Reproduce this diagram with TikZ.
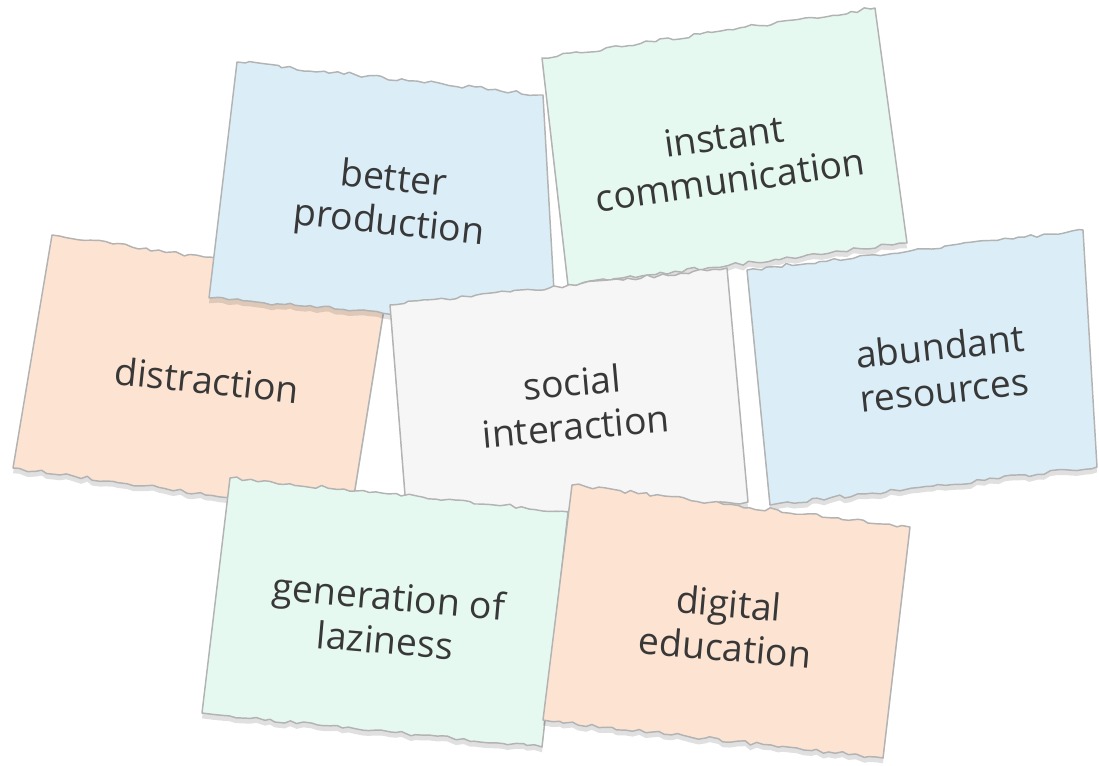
\documentclass[tikz,border=0pt]{standalone}
\usepackage{fontspec}
\setmainfont{Open Sans}
\usetikzlibrary{decorations.pathmorphing,shadows}
\definecolor{noteblue}{HTML}{DBEEF8}
\definecolor{noteorange}{HTML}{FDE4D2}
\definecolor{notegreen}{HTML}{E6F9F1}
\definecolor{notegray}{HTML}{F6F6F6}
\definecolor{noteedge}{HTML}{B3B3B3}
\definecolor{notetext}{HTML}{383838}
\tikzset{font=\fontsize{28}{33}\selectfont}
\tikzset{paper/.style={draw=noteedge, line width=1.1pt, line join=round,
    drop shadow={shadow xshift=0pt, shadow yshift=-4pt, fill=black, opacity=.12}}}
\tikzset{torn/.style={decoration={random steps, segment length=5pt, amplitude=1.4pt}}}
\tikzset{notelabel/.style={text=notetext, align=center}}
% corners: top left, top right, bottom right, bottom left, colour
\newcommand{\papernote}[5]{%
  \path[paper, fill=#5] #4 -- #1 decorate[torn]{-- #2} -- #3 decorate[torn]{-- #4} -- cycle;}

\begin{document}
\begin{tikzpicture}[x=0.75pt,y=-0.75pt]
\pgfmathsetseed{11}
\useasboundingbox (0,0) rectangle (1099,766);
\papernote{(52,235)}{(388,284)}{(351,514)}{(13,468)}{noteorange}
\papernote{(237,62)}{(543,95)}{(556,327)}{(209,298)}{noteblue}
\papernote{(542,58)}{(875,8)}{(907,243)}{(568,285)}{notegreen}
\papernote{(390,305)}{(727,268)}{(748,502)}{(407,520)}{notegray}
\papernote{(747,270)}{(1083,230)}{(1097,467)}{(770,505)}{noteblue}
\papernote{(230,478)}{(568,512)}{(542,747)}{(202,713)}{notegreen}
\papernote{(572,485)}{(910,527)}{(883,758)}{(543,720)}{noteorange}

\node[notelabel, rotate=-6] (distraction) at (207,380) {distraction};
\node[notelabel, rotate=-6] (production) at (391,203) {better\\production};
\node[notelabel, rotate=8] (communication) at (727,158) {instant\\communication};
\node[notelabel, rotate=5] (social) at (574,404) {social\\interaction};
\node[notelabel, rotate=6] (resources) at (942,368) {abundant\\resources};
\node[notelabel, rotate=-5] (laziness) at (387,618) {generation of\\laziness};
\node[notelabel, rotate=-5] (education) at (727,625) {digital\\education};
\end{tikzpicture}
\end{document}
